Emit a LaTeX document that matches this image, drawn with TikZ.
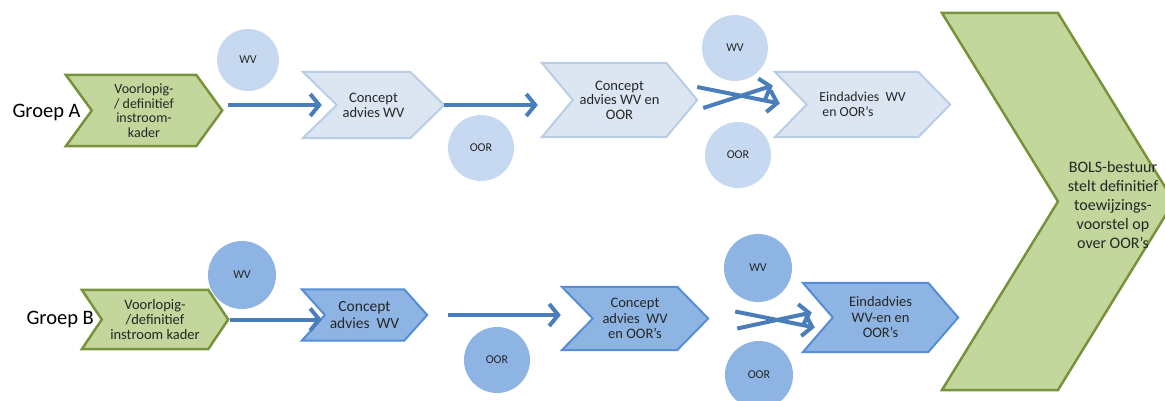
\documentclass[tikz,border=0pt]{standalone}
\usepackage{fontspec}
\setmainfont{Carlito}
\usetikzlibrary{arrows.meta,backgrounds}

\definecolor{arrowblue}{HTML}{4A7EBB}
\definecolor{liteblue}{HTML}{DCE6F2}
\definecolor{liteline}{HTML}{B9CDE5}
\definecolor{bubblelite}{HTML}{C6D9F1}
\definecolor{midblue}{HTML}{8EB4E3}
\definecolor{midline}{HTML}{558ED5}
\definecolor{olivefill}{HTML}{C3D69B}
\definecolor{oliveline}{HTML}{77933C}
\definecolor{ink}{HTML}{262626}

\tikzset{
  flow/.style={draw=arrowblue, line width=4, -{Straight Barb[length=9pt,width=22pt]}},
  chevGreen/.style={fill=olivefill, draw=oliveline, line width=2.5},
  chevLite/.style={fill=liteblue, draw=liteline, line width=2},
  chevMid/.style={fill=midblue, draw=midline, line width=2},
  box/.style={align=center, inner sep=0, text=ink, font=\fontsize{14}{14.5}\selectfont},
  bubA/.style={circle, fill=bubblelite, minimum size=66, inner sep=0, text=ink, font=\fontsize{12}{13}\selectfont},
  bubB/.style={bubA, fill=midblue},
}

\begin{document}
\begin{tikzpicture}[x=1pt, y=-1pt]
  \clip (0,0) rectangle (1165,401);

  % groep A
  \node[anchor=west, font=\fontsize{20.5}{24}\selectfont] (grA) at (9,113) {Groep A};
  \node[box, minimum width=156, minimum height=71] (gA) at (144,110.5) {Voorlopig-\\/ definitief\\instroom-\\kader};
  \node[box, font=\fontsize{14.5}{15}\selectfont, minimum width=141, minimum height=66] (cA) at (373.5,105) {Concept\\advies WV};
  \node[box, font=\fontsize{14.5}{14.5}\selectfont, minimum width=155, minimum height=74] (cA2) at (619.5,100) {Concept\\advies WV en\\OOR};
  \node[box, align=left, font=\fontsize{13.8}{15}\selectfont, minimum width=175, minimum height=65] (eA) at (862.5,104.5) {Eindadvies~~WV\\~en OOR’s};

  \node[bubA, minimum size=62] (wvA) at (248,60) {WV};
  \node[bubA] (oorA) at (481,148) {OOR};
  \node[bubA] (wvA2) at (735,48) {WV};
  \node[bubA] (oorA2) at (738,155) {OOR};

  % groep B
  \node[anchor=west, font=\fontsize{20.5}{24}\selectfont] (grB) at (23,319) {Groep B};
  \node[box, font=\fontsize{14.5}{15}\selectfont, minimum width=146, minimum height=59] (gB) at (155,319.5) {Voorlopig-\\/definitief\\instroom kader};
  \node[box, font=\fontsize{15.5}{16.5}\selectfont, minimum width=125, minimum height=51] (cB) at (364.5,315) {Concept\\advies~~WV};
  \node[box, font=\fontsize{14.5}{15.5}\selectfont, minimum width=146, minimum height=63] (cB2) at (635,318.5) {Concept\\advies~~WV\\en OOR’s};
  \node[box, font=\fontsize{14.5}{15.5}\selectfont, minimum width=155, minimum height=69] (eB) at (880.5,317.5) {Eindadvies\\WV-en en\\OOR’s};

  \node[bubB, minimum size=68] (wvB) at (242,275) {WV};
  \node[bubB] (oorB) at (497,360) {OOR};
  \node[bubB, minimum size=68] (wvB2) at (758,268) {WV};
  \node[bubB, minimum size=68] (oorB2) at (759,375) {OOR};

  % BOLS
  \node[box, font=\fontsize{16}{19}\selectfont] (bols) at (1113,205) {BOLS-bestuur\\stelt definitief\\toewijzings-\\voorstel op\\over OOR’s};

  \begin{scope}[on background layer]
    \foreach \n/\d/\s in {gA/26/chevGreen, cA/34/chevLite, cA2/31/chevLite, eA/32/chevLite,
                          gB/20/chevGreen, cB/23/chevMid, cB2/31/chevMid, eB/30/chevMid}
      \draw[\s] (\n.north west) -- ([xshift=-\d]\n.north east) -- (\n.east)
        -- ([xshift=-\d]\n.south east) -- (\n.south west) -- ([xshift=\d]\n.west) -- cycle;
    \draw[chevGreen] (942,13) -- (1058,13) -- (1174,201.5) -- (1058,390) -- (942,390) -- (1058,201.5) -- cycle;
  \end{scope}

  % pijlen
  \draw[flow] ([xshift=6]gA.east |- cA.west) -- ([xshift=19]cA.west);
  \draw[flow] (cA.east) -- ([xshift=-4]cA2.west |- cA.east);
  \draw[flow] ([shift={(0,-13)}]cA2.east) -- ([shift={(5,-1)}]eA.west);
  \draw[flow] ([shift={(6,8)}]cA2.east) -- ([shift={(-2,-19)}]eA.west);

  \draw[flow] ([xshift=2]gB.east) -- ([xshift=20]cB.west |- gB.east);
  \draw[flow] ([xshift=21]cB.east) -- ([xshift=-1]cB2.west |- cB.east);
  \draw[flow] ([shift={(27,-7)}]cB2.east) -- ([shift={(12,10)}]eB.west);
  \draw[flow] ([shift={(29,10)}]cB2.east) -- ([shift={(9,-5)}]eB.west);
\end{tikzpicture}
\end{document}
